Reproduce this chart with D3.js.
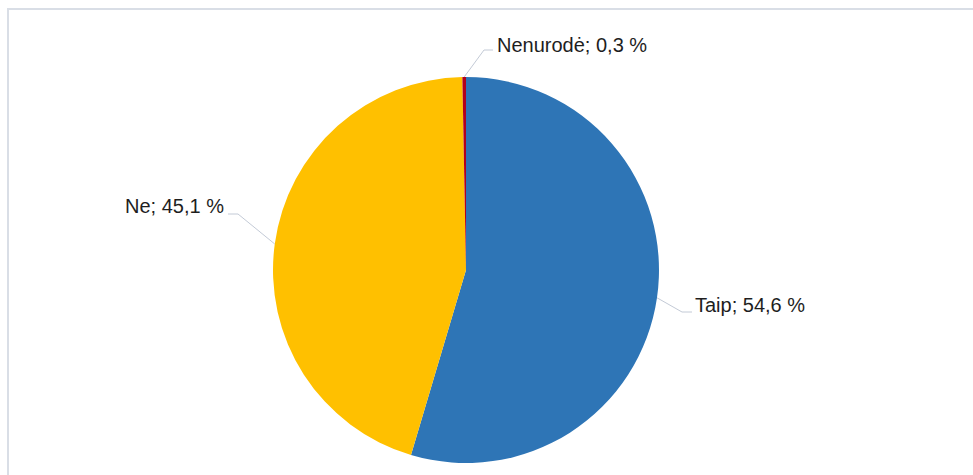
<!DOCTYPE html>
<html>
<head>
<meta charset="utf-8">
<script src="https://cdn.jsdelivr.net/npm/d3@7/dist/d3.min.js"></script>
<style>
  html, body { margin: 0; padding: 0; background: #fff; }
  svg { display: block; }
</style>
</head>
<body>
<svg id="chart" width="973" height="475"></svg>
<script>
// Answer categories and their shares (%)
const categories = ["Taip", "Ne", "Nenurodė"];
const shares = [54.6, 45.1, 0.3];
const colors = ["#2E75B6", "#FFC000", "#B3001B"];

const W = 973, H = 475;
const cx = 466, cy = 270, R = 193;

// Label placement: horizontal elbow end point and text anchor per slice
const labelLayout = [
  { elbow: [682, 312], end: [692, 312], text: [695, 312], anchor: "start" },
  { elbow: [238, 214], end: [228, 214], text: [224, 213], anchor: "end" },
  { elbow: [484, 50],  end: [493, 50],  text: [497, 52],  anchor: "start" }
];

const svg = d3.select("#chart");

// chart frame
svg.append("rect")
  .attr("x", 8).attr("y", 9)
  .attr("width", W + 20).attr("height", H + 20)
  .attr("fill", "#fff")
  .attr("stroke", "#D9DEE6")
  .attr("stroke-width", 2);

const data = categories.map((c, i) => ({ name: c, value: shares[i], color: colors[i] }));

const pie = d3.pie().value(d => d.value).sort(null);
const arcs = pie(data);
const arc = d3.arc().innerRadius(0).outerRadius(R);

const g = svg.append("g").attr("transform", `translate(${cx},${cy})`);

g.selectAll("path.slice")
  .data(arcs)
  .join("path")
  .attr("class", "slice")
  .attr("d", arc)
  .attr("fill", d => d.data.color);

// leader lines from slice mid-angle on the rim to each label
const fmt = v => v.toFixed(1).replace(".", ",");
arcs.forEach((a, i) => {
  const mid = (a.startAngle + a.endAngle) / 2;
  const sx = cx + R * Math.sin(mid);
  const sy = cy - R * Math.cos(mid);
  const L = labelLayout[i];
  svg.append("polyline")
    .attr("points", [[sx, sy], L.elbow, L.end].map(p => p.join(",")).join(" "))
    .attr("fill", "none")
    .attr("stroke", "#C3CAD6")
    .attr("stroke-width", 1);
  svg.append("text")
    .attr("x", L.text[0]).attr("y", L.text[1])
    .attr("text-anchor", L.anchor)
    .attr("font-family", "'Liberation Sans', Arial, sans-serif")
    .attr("font-size", 20)
    .attr("fill", "#1E1E1E")
    .text(`${a.data.name}; ${fmt(a.data.value)} %`);
});
</script>
</body>
</html>
